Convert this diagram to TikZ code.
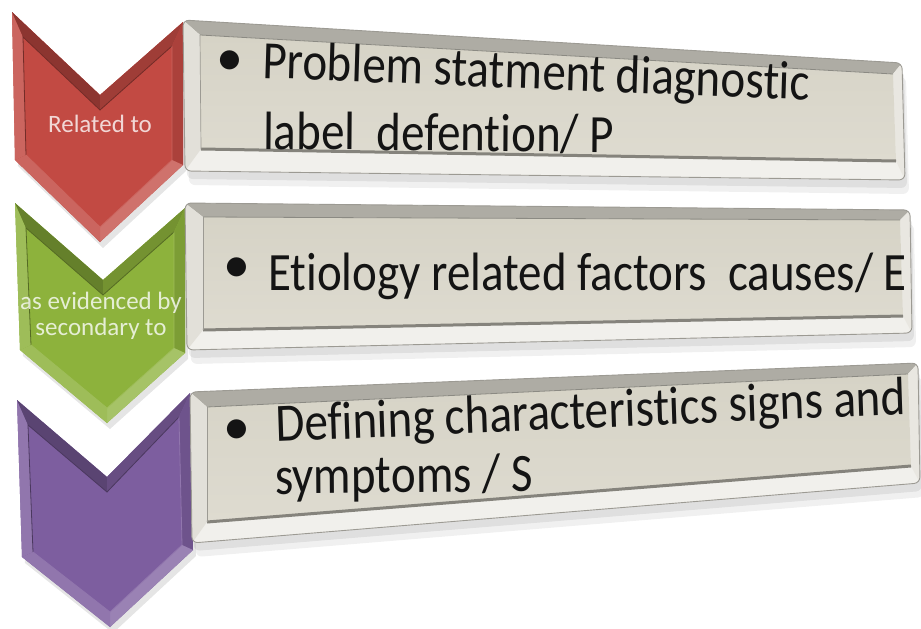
\documentclass[tikz,border=0pt]{standalone}
\usepackage{fontspec}
\setmainfont{Carlito}[Ligatures={NoCommon}]
\definecolor{redM}{HTML}{C24A43}
\definecolor{greenM}{HTML}{8DB23C}
\definecolor{purpM}{HTML}{7D5E9F}
\definecolor{faceT}{HTML}{D6D3C6}
\definecolor{faceB}{HTML}{DEDBD0}
\definecolor{topB}{HTML}{AEACA4}
\definecolor{leftB}{HTML}{E2E0D9}
\definecolor{rightB}{HTML}{E9E7E1}
\definecolor{botB}{HTML}{F1F0EC}
\definecolor{botLine}{HTML}{85837C}
\definecolor{edgeC}{HTML}{9C9A93}
\newcommand{\bigtxt}{\fontsize{54}{64}\selectfont}
\newcommand{\smalltxt}{\fontsize{25}{26}\selectfont}
\newcommand{\drawchev}[2]{%
  \fill[black,opacity=0.10] ([shift={(3,6)}]#1A) -- ([shift={(3,6)}]#1N) -- ([shift={(3,6)}]#1B) -- ([shift={(3,6)}]#1C) -- ([shift={(3,6)}]#1P) -- ([shift={(3,6)}]#1D) -- cycle;
  \fill[#2] (#1A) -- (#1N) -- (#1B) -- (#1C) -- (#1P) -- (#1D) -- cycle;
  \fill[#2!85!white] (#1D) -- (#1A) -- (#1Ai) -- (#1Di) -- cycle;
  \fill[#2!72!black] (#1A) -- (#1N) -- (#1Ni) -- (#1Ai) -- cycle;
  \fill[#2!82!black] (#1N) -- (#1B) -- (#1Bi) -- (#1Ni) -- cycle;
  \fill[#2!88!black] (#1B) -- (#1C) -- (#1Ci) -- (#1Bi) -- cycle;
  \fill[#2!78!white] (#1C) -- (#1P) -- (#1Pi) -- (#1Ci) -- cycle;
  \fill[#2!85!white] (#1P) -- (#1D) -- (#1Di) -- (#1Pi) -- cycle;
  \draw[#2!60!black, line width=0.8] (#1Di) -- (#1Ai) -- (#1Ni) -- (#1Bi);
  \draw[#2!85!white, line width=0.8] (#1Bi) -- (#1Ci) -- (#1Pi) -- (#1Di);
}
\newcommand{\chevpts}[7]{%
  \coordinate (#1A) at #2; \coordinate (#1N) at #3; \coordinate (#1B) at #4;
  \coordinate (#1C) at #5; \coordinate (#1P) at #6; \coordinate (#1D) at #7;
  \coordinate (#1Ai) at ([shift={(11,25)}]#1A);
  \coordinate (#1Ni) at ([shift={(0,15)}]#1N);
  \coordinate (#1Bi) at ([shift={(-11,24)}]#1B);
  \coordinate (#1Ci) at ([shift={(-11,-5)}]#1C);
  \coordinate (#1Pi) at ([shift={(0,-15)}]#1P);
  \coordinate (#1Di) at ([shift={(11,-5)}]#1D);
}
\newcommand{\drawbox}[1]{%
  \fill[black,opacity=0.07,rounded corners=6] ([shift={(2,8)}]#1TL) -- ([shift={(2,8)}]#1TR) -- ([shift={(2,8)}]#1BR) -- ([shift={(2,8)}]#1BL) -- cycle;
  \fill[black,opacity=0.06,rounded corners=6] ([shift={(4,14)}]#1TL) -- ([shift={(4,14)}]#1TR) -- ([shift={(4,14)}]#1BR) -- ([shift={(4,14)}]#1BL) -- cycle;
  \begin{scope}
    \clip[rounded corners=6] (#1TL) -- (#1TR) -- (#1BR) -- (#1BL) -- cycle;
    \fill[botB] (#1TL) -- (#1TR) -- (#1BR) -- (#1BL) -- cycle;
    \fill[topB] (#1TL) -- (#1TR) -- (#1TRi) -- (#1TLi) -- cycle;
    \fill[leftB] (#1TL) -- (#1TLi) -- (#1BLi) -- (#1BL) -- cycle;
    \fill[rightB] (#1TR) -- (#1BR) -- (#1BRi) -- (#1TRi) -- cycle;
    \shade[top color=faceT, bottom color=faceB] (#1TLi) -- (#1TRi) -- (#1BRi) -- (#1BLi) -- cycle;
    \draw[botLine, line width=3] (#1BLi) -- (#1BRi);
    \draw[topB!80!black, line width=0.8] (#1TLi) -- (#1TRi);
    \draw[edgeC, line width=0.7] (#1TLi) -- (#1BLi);
  \end{scope}
  \draw[edgeC, line width=0.9, rounded corners=6] (#1TL) -- (#1TR) -- (#1BR) -- (#1BL) -- cycle;
}
\begin{document}
\begin{tikzpicture}[x=1pt,y=-1pt,
  maintext/.style={anchor=base west, inner sep=0pt, font=\bigtxt, text=black!92, xscale=0.87},
  bul/.style={inner sep=0pt, font=\bigtxt, text=black!92},
  chevtext/.style={inner sep=0pt, font=\smalltxt, text=white, text opacity=0.78, align=center}]
\useasboundingbox (0,0) rectangle (921,629);
\fill[white] (0,0) rectangle (921,629);

% chevrons
\chevpts{r}{(12,12)}{(100,95)}{(183,22)}{(183,165)}{(100,242)}{(15,160)}
\chevpts{g}{(15,203)}{(103,280)}{(185,208)}{(185,353)}{(107,423)}{(20,350)}
\chevpts{p}{(17,400)}{(107,477)}{(190,393)}{(193,550)}{(110,627)}{(22,557)}
\drawchev{r}{redM}
\drawchev{g}{greenM}
\drawchev{p}{purpM}

% boxes
\coordinate (aTL) at (183,20);  \coordinate (aTR) at (902,63);
\coordinate (aBR) at (905,180); \coordinate (aBL) at (185,171);
\coordinate (aTLi) at (200,35); \coordinate (aTRi) at (893,74);
\coordinate (aBRi) at (896,161); \coordinate (aBLi) at (201,149);
\coordinate (bTL) at (185,203); \coordinate (bTR) at (910,210);
\coordinate (bBR) at (912,333); \coordinate (bBL) at (187,350);
\coordinate (bTLi) at (203,217); \coordinate (bTRi) at (900,220);
\coordinate (bBRi) at (903,316); \coordinate (bBLi) at (203,330);
\coordinate (cTL) at (190,392); \coordinate (cTR) at (918,363);
\coordinate (cBR) at (920,483); \coordinate (cBL) at (192,543);
\coordinate (cTLi) at (207,407); \coordinate (cTRi) at (908,374);
\coordinate (cBRi) at (911,466); \coordinate (cBLi) at (207,522);
\drawbox{a}
\drawbox{b}
\drawbox{c}

% chevron labels
\node[chevtext] (lab1) at (100,124) {Related to};
\node[chevtext] (lab2) at (101,316) {as evidenced by\\secondary to};

% box texts
\node[bul] (bu1) at (230,63) {•};
\node[maintext, rotate=-2] (t1a) at (262,78) {Problem statment diagnostic};
\node[maintext, rotate=-0.5] (t1b) at (263,149) {label\ \ defention/ P};
\node[bul] (bu2) at (237,270) {•};
\node[maintext] (t2) at (268,290) {Etiology related factors\ \ causes/ E};
\node[bul] (bu3) at (237,432) {•};
\node[maintext, rotate=2.2] (t3a) at (276,442) {Defining characteristics signs and};
\node[maintext, rotate=0.5] (t3b) at (275,494) {symptoms / S};
\end{tikzpicture}
\end{document}
